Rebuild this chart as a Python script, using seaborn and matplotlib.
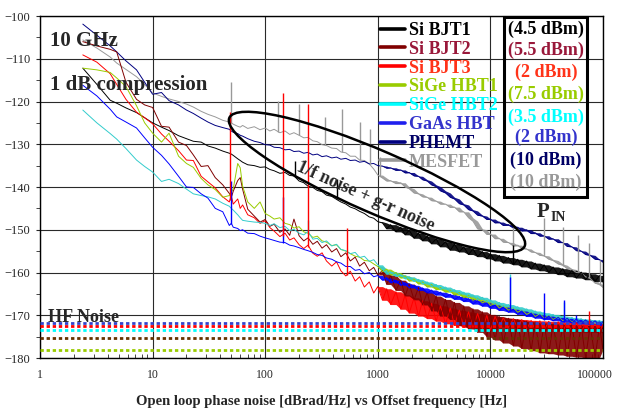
import pandas as pd
import matplotlib.pyplot as plt
import seaborn as sns
from matplotlib.lines import Line2D
from matplotlib.patches import Ellipse, Rectangle
from matplotlib.ticker import NullFormatter
from matplotlib.transforms import ScaledTranslation

# offset frequency [Hz], shared by all devices
freq = [2.4, 3.2, 4.2, 4.8, 5.8, 7.2, 8.5, 10, 12, 14, 17, 20, 23, 27, 31, 36, 42, 48, 50, 52, 57, 60, 63, 70, 80, 90, 100,
        110, 120, 135, 150, 165, 180, 200, 220, 240, 265, 290, 320, 350, 390, 430, 470, 520, 570, 630, 690, 760, 840, 920, 1000,
        1100, 1200, 1300, 1450, 1600, 1750, 1900, 2100, 2300, 2500, 2750, 3000, 3300, 3600, 4000, 4400, 4800, 5300, 5800, 6400, 7000, 7700, 8500, 9300, 10000,
        11000, 12000, 13000, 14500, 16000, 17500, 19000, 21000, 23000, 25000, 27500, 30000, 33000, 36000, 40000, 44000, 48000, 53000, 58000, 64000, 70000, 77000, 85000, 93000, 100000]

si_bjt1 = [-112.2, -116.0, -119.7, -120.4, -121.5, -122.6, -123.8, -125.0, -126.0, -126.8, -128.0, -128.7, -129.3, -129.5, -130.4, -130.9, -131.6, -132.1, -132.3, -132.6, -133.4, -133.8, -134.2, -134.8, -135.0, -135.4, -135.3,
           -135.9, -136.2, -136.8, -136.6, -137.3, -137.4, -138.6, -139.0, -139.8, -140.1, -140.8, -141.1, -141.9, -142.2, -142.9, -143.5, -144.0, -144.7, -145.1, -145.7, -146.2, -147.0, -147.3, -148.1,
           -148.4, -149.8, -148.8, -150.5, -149.4, -151.2, -150.1, -152.0, -150.8, -152.6, -151.5, -153.3, -152.1, -154.0, -152.8, -154.8, -153.4, -155.2, -154.0, -155.8, -154.5, -156.3, -155.1, -156.8, -155.6,
           -157.3, -156.0, -157.8, -156.5, -158.2, -156.9, -158.7, -157.3, -159.2, -157.8, -159.6, -158.2, -160.0, -158.7, -160.5, -159.1, -161.0, -159.5, -161.3, -159.9, -161.7, -160.3, -162.1, -160.7, -162.2]

si_bjt2 = [-106.0, -107.0, -107.8, -108.4, -115.5, -119.5, -120.8, -121.4, -125.8, -126.0, -129.5, -130.3, -132.5, -135.2, -135.0, -137.8, -139.5, -141.5, -142.5, -141.0, -138.5, -137.8, -140.5, -145.2, -146.8, -148.2, -147.6,
           -149.2, -148.7, -150.6, -149.8, -151.3, -147.5, -151.4, -152.6, -151.9, -153.4, -152.7, -154.3, -153.5, -155.2, -154.4, -156.3, -155.4, -157.3, -156.4, -158.5, -157.6, -159.6, -158.8, -160.6,
           -159.5, -162.8, -160.6, -164.2, -161.8, -165.5, -162.7, -166.4, -163.5, -167.6, -164.6, -169.0, -165.5, -170.2, -166.3, -171.0, -167.0, -172.4, -167.8, -173.2, -168.5, -174.0, -169.2, -175.1, -169.8,
           -175.8, -170.3, -176.5, -170.7, -177.2, -171.0, -177.8, -171.4, -178.3, -171.6, -178.8, -171.8, -179.0, -172.0, -179.3, -172.1, -179.6, -172.2, -179.8, -172.3, -180.0, -172.4, -180.0, -172.5, -178.0]

si_bjt3 = [-109.1, -110.8, -113.5, -116.0, -119.5, -122.5, -123.8, -125.2, -127.6, -129.3, -131.5, -133.7, -133.8, -137.5, -138.8, -140.2, -142.3, -143.5, -142.0, -144.0, -142.8, -145.0, -144.2, -146.5, -147.2, -148.5, -147.9,
           -149.5, -150.3, -151.6, -150.8, -152.4, -151.9, -153.5, -154.4, -153.6, -155.5, -156.2, -155.4, -157.3, -158.5, -157.5, -159.6, -160.8, -159.7, -162.0, -161.0, -163.4, -162.2, -164.8, -163.3,
           -166.5, -163.8, -167.5, -164.5, -168.6, -165.2, -169.5, -165.9, -170.2, -166.6, -170.8, -167.2, -171.4, -167.8, -172.0, -168.3, -172.4, -168.8, -172.8, -169.2, -173.0, -169.6, -173.3, -170.0, -173.5,
           -170.3, -172.7, -170.6, -172.9, -170.8, -173.1, -171.0, -173.3, -171.2, -173.5, -171.3, -173.6, -171.4, -173.7, -171.5, -173.8, -171.6, -173.9, -171.7, -174.0, -171.8, -174.0, -171.8, -174.1, -172.0]

sige_hbt1 = [-112.2, -112.6, -113.2, -114.5, -116.5, -121.0, -125.0, -127.4, -129.5, -127.4, -132.8, -134.5, -135.4, -138.0, -139.5, -140.6, -142.4, -142.0, -141.2, -140.5, -134.5, -135.5, -139.8, -143.5, -145.0, -143.5, -146.2,
             -146.8, -147.5, -147.2, -148.5, -148.8, -149.6, -149.3, -150.5, -150.8, -151.8, -151.5, -152.6, -152.9, -153.7, -153.5, -154.6, -155.0, -155.6, -156.2, -156.4, -157.2, -157.3, -158.0, -158.6,
             -159.8, -159.2, -160.6, -160.0, -161.3, -160.8, -162.0, -161.5, -162.7, -162.2, -163.4, -162.8, -164.0, -163.5, -164.6, -164.1, -165.3, -164.7, -165.9, -165.3, -166.5, -166.0, -167.1, -166.6, -167.7,
             -167.2, -168.3, -167.8, -168.8, -168.3, -169.3, -168.8, -169.8, -169.3, -170.3, -169.7, -170.7, -170.1, -171.0, -170.4, -171.3, -170.7, -171.6, -171.0, -171.9, -171.2, -172.1, -171.4, -172.3, -171.6]

sige_hbt2 = [-122.0, -125.0, -127.5, -128.8, -131.0, -133.7, -135.2, -136.5, -138.7, -138.2, -139.2, -140.5, -141.6, -142.0, -142.3, -142.8, -143.8, -144.5, -145.0, -145.4, -146.5, -147.2, -147.8, -148.0, -148.2, -148.3, -148.5,
             -149.0, -148.6, -149.5, -149.2, -150.2, -149.9, -150.8, -151.2, -150.4, -152.2, -152.0, -153.0, -152.6, -153.8, -153.4, -154.6, -154.9, -155.6, -155.3, -156.5, -156.2, -157.4, -157.0, -158.2,
             -159.3, -160.4, -159.8, -160.9, -160.5, -161.5, -161.0, -162.1, -161.6, -162.7, -162.2, -163.3, -162.8, -163.9, -163.4, -164.5, -164.0, -165.1, -164.6, -165.7, -165.2, -166.3, -165.8, -166.9, -166.4,
             -167.5, -167.0, -168.0, -167.5, -168.6, -168.0, -169.1, -168.5, -169.6, -169.0, -170.0, -169.4, -170.4, -169.8, -170.8, -170.2, -171.1, -170.5, -171.4, -170.8, -171.7, -171.0, -171.9, -171.2, -172.0]

gaas_hbt = [-116.2, -118.7, -121.8, -123.6, -124.8, -126.2, -128.5, -130.7, -132.6, -134.6, -137.5, -140.0, -140.1, -141.6, -142.6, -145.0, -145.8, -149.0, -148.5, -149.4, -149.7, -150.2, -150.0, -150.8, -150.9, -151.5, -151.9,
            -152.2, -152.5, -152.9, -153.0, -153.6, -153.8, -154.2, -154.6, -154.9, -155.3, -155.8, -156.0, -156.6, -156.9, -157.5, -157.8, -158.6, -158.6, -159.5, -159.3, -160.3, -160.0, -161.0, -160.7,
            -161.8, -161.2, -162.4, -161.8, -163.0, -162.4, -163.6, -163.0, -164.2, -163.6, -164.8, -164.1, -165.3, -164.6, -165.8, -165.1, -166.3, -165.6, -166.8, -166.1, -167.4, -166.6, -167.9, -167.1, -168.4,
            -167.6, -168.9, -168.1, -169.3, -168.6, -169.8, -169.0, -170.3, -169.5, -170.7, -169.9, -171.0, -170.2, -171.3, -170.5, -171.6, -170.7, -171.8, -170.9, -172.0, -171.1, -172.2, -171.3, -172.4, -171.5]

phemt = [-101.9, -104.5, -107.0, -108.4, -110.5, -112.6, -115.5, -118.3, -117.9, -119.8, -120.8, -122.0, -122.8, -123.9, -124.8, -125.6, -126.1, -126.5, -126.9, -127.2, -127.5, -127.9, -128.1, -128.7, -129.3, -129.6, -130.1,
         -130.2, -130.7, -130.8, -131.3, -131.2, -131.7, -131.6, -132.1, -131.9, -132.5, -132.3, -132.9, -132.7, -133.2, -133.0, -133.5, -133.3, -133.8, -133.7, -134.2, -134.0, -134.6, -134.5, -135.0,
         -135.1, -135.6, -135.5, -136.1, -136.0, -136.7, -136.6, -137.4, -137.5, -138.3, -138.6, -139.5, -139.9, -140.9, -141.4, -142.4, -142.8, -143.9, -144.2, -145.3, -145.6, -146.6, -146.8, -147.6, -147.5,
         -148.4, -148.2, -149.0, -148.8, -149.6, -149.4, -150.3, -150.0, -150.9, -150.7, -151.5, -151.4, -152.2, -152.1, -153.0, -153.0, -153.9, -154.0, -154.9, -155.0, -155.8, -156.0, -156.9, -157.0, -157.6]

mesfet = [-105.6, -107.5, -109.6, -111.0, -112.5, -114.2, -116.0, -118.0, -118.8, -119.4, -120.0, -120.6, -121.3, -122.3, -123.0, -123.6, -124.4, -124.8, -125.0, -125.3, -125.8, -126.0, -125.6, -126.3, -125.9, -126.6, -126.2,
          -126.9, -126.5, -127.3, -126.9, -127.7, -127.3, -127.9, -128.5, -128.4, -129.2, -129.4, -130.1, -130.3, -130.9, -131.0, -131.8, -132.0, -132.8, -132.8, -133.7, -133.8, -134.6, -135.8, -137.2,
          -137.9, -138.6, -138.5, -139.2, -139.0, -140.0, -140.4, -141.4, -141.6, -142.3, -142.4, -143.2, -143.3, -144.0, -144.0, -144.8, -144.7, -145.8, -145.8, -147.2, -148.0, -149.8, -150.0, -151.1, -151.0,
          -152.1, -152.0, -152.9, -153.0, -153.8, -153.6, -154.4, -154.5, -155.2, -155.3, -156.0, -156.1, -156.9, -157.2, -158.0, -158.3, -159.1, -159.3, -160.0, -160.1, -161.0, -161.4, -162.5, -162.8, -163.5]

devices = ["Si BJT1", "Si BJT2", "Si BJT3", "SiGe HBT1", "SiGe HBT2", "GaAs HBT", "PHEMT", "MESFET"]
powers = ["(4.5 dBm)", "(5.5 dBm)", "(2 dBm)", "(7.5 dBm)", "(3.5 dBm)", "(2 dBm)", "(10 dBm)", "(10 dBm)"]
series = [si_bjt1, si_bjt2, si_bjt3, sige_hbt1, sige_hbt2, gaas_hbt, phemt, mesfet]

line_colors = ["#000000", "#800000", "#FF0000", "#99CC00", "#33CCCC", "#0000FF", "#000080", "#999999"]
handle_colors = ["#000000", "#800000", "#FF0000", "#99CC00", "#00FFFF", "#1F1FEE", "#000080", "#999999"]
text_colors = ["#000000", "#99183A", "#FF3319", "#99CC00", "#00FFFF", "#3333CC", "#000066", "#999999"]
draw_order = ["MESFET", "PHEMT", "Si BJT1", "Si BJT3", "Si BJT2", "SiGe HBT1", "SiGe HBT2", "GaAs HBT"]

# spurious lines: device, frequency, curve level, spike top
spike_dev = ["MESFET"] * 14 + ["Si BJT1"] * 3 + ["SiGe HBT2"] * 3 + ["GaAs HBT"] * 6 + ["Si BJT3"] * 5
spike_f = [50, 130, 200, 340, 480, 700, 850, 1050, 16000, 30000, 44000, 60000, 75000, 95000,
           184, 433, 16000,
           240, 15000, 45000,
           50, 144, 15000, 30000, 45000, 58000,
           49, 144, 240, 530, 75000]
spike_base = [-125.0, -127.2, -127.9, -130.2, -131.7, -133.6, -134.7, -137.5, -153.8, -156.1, -158.4, -159.8, -161.2, -163.0,
              -137.4, -142.9, -158.0,
              -150.8, -168.3, -170.2,
              -148.7, -153.0, -169.0, -171.0, -171.5, -171.0,
              -143.0, -151.5, -154.0, -160.5, -172.0]
spike_top = [-115.4, -119.8, -120.6, -123.6, -121.8, -124.9, -126.5, -133.0, -149.4, -147.3, -149.4, -151.3, -153.2, -157.0,
             -134.0, -138.2, -153.5,
             -147.8, -160.3, -166.9,
             -138.5, -142.4, -161.0, -164.9, -166.5, -170.0,
             -122.5, -118.0, -120.5, -149.6, -168.9]

# HF noise floors (dotted)
hf_levels = [-171.8, -172.4, -173.5, -175.4, -178.1]
hf_colors = ["#3344CC", "#FF0000", "#00FFFF", "#663300", "#99CC00"]

df = pd.concat([pd.DataFrame({"freq": freq, "noise": v, "device": d}) for d, v in zip(devices, series)],
               ignore_index=True)
palette = dict(zip(devices, line_colors))

sns.set_style("white")
plt.rcParams["font.family"] = ["Liberation Serif", "DejaVu Serif"]

fig = plt.figure(figsize=(6.18, 4.09), dpi=100)
ax = fig.add_axes([40 / 618, 1 - 358 / 409, 563 / 618, 342 / 409])

sns.lineplot(data=df, x="freq", y="noise", hue="device", hue_order=draw_order, palette=palette,
             estimator=None, sort=False, lw=0.7, legend=False, ax=ax)

# the dense FFT noise above 1 kHz: shade the spread between neighbouring readings
for i, d in enumerate(draw_order):
    sub = df[(df["device"] == d) & (df["freq"] >= 1000)]
    lo = sub["noise"].rolling(2, min_periods=1).min()
    hi = sub["noise"].rolling(2, min_periods=1).max()
    ax.fill_between(sub["freq"], lo, hi, color=palette[d], lw=0, alpha=0.9, zorder=1.9 + i * 0.01)

for d, f, lo, hi in zip(spike_dev, spike_f, spike_base, spike_top):
    ax.vlines(f, lo, hi, color=palette[d], lw=1.0, zorder=2.5)

ax.hlines(hf_levels, 1, 100000, colors=hf_colors, linestyles=[(0, (1.2, 1.0))] * len(hf_levels), lw=2.0, zorder=3)

ax.set_xscale("log")
ax.set_xlim(1, 100000)
ax.set_ylim(-180, -100)
ax.set_xticks([1, 10, 100, 1000, 10000, 100000])
ax.set_xticklabels(["1", "10", "100", "1000", "10000", "100000"])
ax.xaxis.set_minor_formatter(NullFormatter())
ax.set_yticks(list(range(-180, -99, 10)))
ax.set_yticks(list(range(-175, -100, 10)), minor=True)
ax.tick_params(axis="x", which="major", direction="in", length=4, pad=8, labelsize=8.5)
ax.tick_params(axis="x", which="minor", direction="in", length=3, bottom=True)
ax.tick_params(axis="y", which="both", direction="out", length=3, pad=4, labelsize=9, left=True)
last = ax.get_xticklabels()[-1]
last.set_transform(last.get_transform() + ScaledTranslation(-8 / 100, 0, fig.dpi_scale_trans))
ax.grid(True, which="major", color="#2a2a2a", lw=0.8)
ax.set_axisbelow(True)
for s in ax.spines.values():
    s.set_color("black")
    s.set_linewidth(1.0)
ax.set_xlabel("Open loop phase noise [dBrad/Hz] vs Offset frequency [Hz]", fontsize=10.5,
              fontweight="bold", labelpad=10)
ax.set_ylabel("")

handles = [Line2D([], [], color=c, lw=2.6) for c in handle_colors]
ax.legend(handles, devices, loc="upper left", bbox_to_anchor=(380 / 618, 1 - 22 / 409),
          bbox_transform=fig.transFigure, frameon=False,
          prop={"family": "Liberation Serif", "weight": "bold", "size": 13},
          labelcolor=text_colors, handlelength=1.4, handletextpad=0.2, labelspacing=0.1,
          borderpad=0, borderaxespad=0)

row_y = [29, 50, 72, 94, 117, 137, 160, 182]
for p, c, y in zip(powers, text_colors, row_y):
    fig.text(546 / 618, 1 - y / 409, p, ha="center", va="center", color=c, fontsize=13, fontweight="bold")
fig.add_artist(Rectangle((504 / 618, 1 - 197 / 409), 83 / 618, 180 / 409, transform=fig.transFigure,
                         fill=False, ec="black", lw=2.2))

fig.text(50 / 618, 1 - 46 / 409, "10 GHz", fontsize=15, fontweight="bold", va="baseline")
fig.text(50 / 618, 1 - 90 / 409, "1 dB compression", fontsize=15, fontweight="bold", va="baseline")
fig.text(48 / 618, 1 - 322 / 409, "HF Noise", fontsize=13, fontweight="bold", va="baseline")
fig.text(365 / 618, 1 - 197 / 409, "1/f noise + g-r noise", fontsize=13, fontweight="bold",
         rotation=-24, rotation_mode="anchor", ha="center", va="center")
fig.text(537 / 618, 1 - 217 / 409, "P", fontsize=15, fontweight="bold", va="baseline")
fig.text(551 / 618, 1 - 221 / 409, "IN", fontsize=10, fontweight="bold", va="baseline")

fig.add_artist(Ellipse((3.77, 4.09 - 1.82), 3.22, 0.62, angle=-23.5, transform=fig.dpi_scale_trans,
                       fill=False, ec="black", lw=1.8))

fig.savefig("out.png", dpi=100)
